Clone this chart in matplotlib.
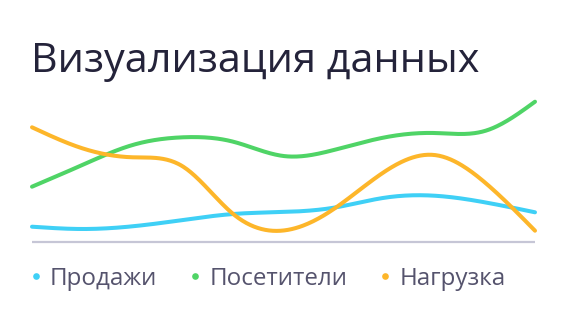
import numpy as np
import matplotlib
matplotlib.use("Agg")
import matplotlib.pyplot as plt
from matplotlib.lines import Line2D

# ---- data ----
title = "Визуализация данных"
series_names = ["Продажи", "Посетители", "Нагрузка"]
points = list(range(11))
sales = [14.8, 12.5, 15.2, 21.5, 27.5, 29.5, 33.8, 43.7, 45.8, 39.2, 29.2]
visitors = [54.8, 76.5, 96.5, 104.2, 99.8, 85.5, 91.5, 104.0, 108.5, 110.5, 139.8]
load = [114.2, 93.2, 84.2, 75.0, 27.5, 11.0, 32.5, 69.5, 86.5, 59.2, 10.8]

colors = ["#3fd0f6", "#4fd466", "#fdb62a"]
title_color = "#24233a"
legend_color = "#55536d"
base_color = "#c6c6d6"


def natural_spline(x, y, n=400):
    x = np.asarray(x, float)
    y = np.asarray(y, float)
    k = len(x)
    h = np.diff(x)
    A = np.zeros((k, k))
    b = np.zeros(k)
    A[0, 0] = 1
    A[-1, -1] = 1
    for i in range(1, k - 1):
        A[i, i - 1] = h[i - 1]
        A[i, i] = 2 * (h[i - 1] + h[i])
        A[i, i + 1] = h[i]
        b[i] = 6 * ((y[i + 1] - y[i]) / h[i] - (y[i] - y[i - 1]) / h[i - 1])
    M = np.linalg.solve(A, b)
    xs = np.linspace(x[0], x[-1], n)
    idx = np.clip(np.searchsorted(x, xs) - 1, 0, k - 2)
    x0, x1 = x[idx], x[idx + 1]
    hh = x1 - x0
    t0 = x1 - xs
    t1 = xs - x0
    ys = (M[idx] * t0 ** 3 / (6 * hh) + M[idx + 1] * t1 ** 3 / (6 * hh)
          + (y[idx] / hh - M[idx] * hh / 6) * t0
          + (y[idx + 1] / hh - M[idx + 1] * hh / 6) * t1)
    return xs, ys


W, H = 566, 324
fig = plt.figure(figsize=(W / 100, H / 100), dpi=100)
fig.patch.set_facecolor("white")

left, right = 32 / W, 535 / W
bottom, top = (H - 241.5) / H, (H - 91.5) / H
ax = fig.add_axes([left, bottom, right - left, top - bottom])
ax.set_xlim(points[0], points[-1])
ax.set_ylim(0, 150)
ax.axis("off")

ax.plot([points[0], points[-1]], [0, 0], color=base_color, lw=1.6,
        solid_capstyle="butt", clip_on=False, zorder=1)

for vals, c in zip([sales, visitors, load], colors):
    xs, ys = natural_spline(points, vals)
    ax.plot(xs, ys, color=c, lw=2.9, solid_capstyle="round",
            solid_joinstyle="round", clip_on=False, zorder=3)

font = ["Open Sans", "DejaVu Sans"]
fig.text(31 / W, 1 - 71.7 / H, title, family=font, fontsize=29.8,
         color=title_color, ha="left", va="baseline")

# legend
fig.canvas.draw()
renderer = fig.canvas.get_renderer()
x_px = 35.5
y_base = 285.0
y_dot = 275.7
for name, c in zip(series_names, colors):
    fig.add_artist(Line2D([x_px / W], [1 - y_dot / H], transform=fig.transFigure,
                          marker="o", markersize=4.8, color=c, markeredgewidth=0,
                          linestyle="none"))
    t = fig.text((x_px + 14.5) / W, 1 - y_base / H, name, family=font,
                 fontsize=17.4, color=legend_color, ha="left", va="baseline")
    bb = t.get_window_extent(renderer=renderer)
    x_px = bb.x1 + 37.5

fig.savefig("out.png", dpi=100, facecolor="white")
